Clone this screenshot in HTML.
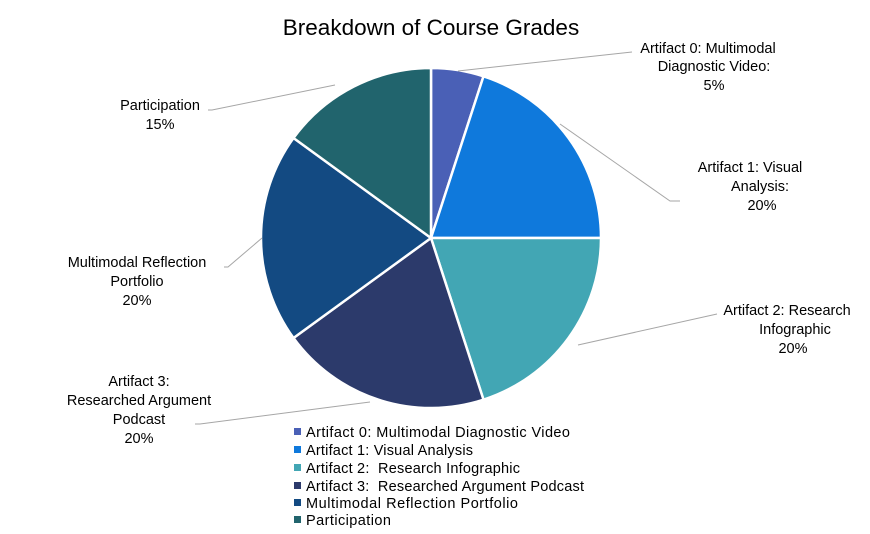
<!DOCTYPE html>
<html><head><style>
body{margin:0;background:#fff;}
svg text{font-family:"Liberation Sans",Arial,sans-serif;fill:#000;}
</style></head><body>
<svg width="870" height="529" viewBox="0 0 870 529" xmlns="http://www.w3.org/2000/svg">
<rect width="870" height="529" fill="#fff"/>
<text x="431" y="35" font-size="22.5" text-anchor="middle">Breakdown of Course Grades</text>
<g stroke="#fff" stroke-width="2.5">
<path d="M431,238 L431,68 A170,170 0 0 1 483.5,76.3 Z" fill="#4a60b6"/>
<path d="M431,238 L483.5,76.3 A170,170 0 0 1 601,238 Z" fill="#0f79dc"/>
<path d="M431,238 L601,238 A170,170 0 0 1 483.5,399.7 Z" fill="#42a6b4"/>
<path d="M431,238 L483.5,399.7 A170,170 0 0 1 293.5,338 Z" fill="#2c3a6b"/>
<path d="M431,238 L293.5,338 A170,170 0 0 1 293.5,138 Z" fill="#134a82"/>
<path d="M431,238 L293.5,138 A170,170 0 0 1 431,68 Z" fill="#21646d"/>
</g>
<g stroke="#a6a6a6" stroke-width="1" fill="none">
<polyline points="458,71 632,52"/>
<polyline points="560,124 670,201 680,201"/>
<polyline points="578,345 717,314"/>
<polyline points="370,402 200,424 195,424"/>
<polyline points="262,238 228,267 224,267"/>
<polyline points="335,85 212,110 208,110"/>
</g>
<g font-size="14.5" text-anchor="middle">
<text x="708" y="53">Artifact 0: Multimodal</text>
<text x="714" y="71">Diagnostic Video:</text>
<text x="714" y="90">5%</text>
<text x="750" y="172">Artifact 1: Visual</text>
<text x="760" y="191">Analysis:</text>
<text x="762" y="210">20%</text>
<text x="787" y="315">Artifact 2: Research</text>
<text x="795" y="334">Infographic</text>
<text x="793" y="353">20%</text>
<text x="139" y="386">Artifact 3:</text>
<text x="139" y="405">Researched Argument</text>
<text x="139" y="424">Podcast</text>
<text x="139" y="443">20%</text>
<text x="137" y="267">Multimodal Reflection</text>
<text x="137" y="286">Portfolio</text>
<text x="137" y="305">20%</text>
<text x="160" y="110">Participation</text>
<text x="160" y="129">15%</text>
</g>
<g font-size="14.5">
<rect x="294" y="428" width="7" height="7" fill="#4a60b6"/><text x="306" y="437" textLength="264">Artifact 0: Multimodal Diagnostic Video</text>
<rect x="294" y="446" width="7" height="7" fill="#0f79dc"/><text x="306" y="455" textLength="167">Artifact 1: Visual Analysis</text>
<rect x="294" y="464" width="7" height="7" fill="#42a6b4"/><text x="306" y="473" xml:space="preserve" textLength="214">Artifact 2:  Research Infographic</text>
<rect x="294" y="482" width="7" height="7" fill="#2c3a6b"/><text x="306" y="491" xml:space="preserve" textLength="278">Artifact 3:  Researched Argument Podcast</text>
<rect x="294" y="499" width="7" height="7" fill="#134a82"/><text x="306" y="508" textLength="212">Multimodal Reflection Portfolio</text>
<rect x="294" y="516" width="7" height="7" fill="#21646d"/><text x="306" y="525" textLength="85">Participation</text>
</g>
</svg>
</body></html>
